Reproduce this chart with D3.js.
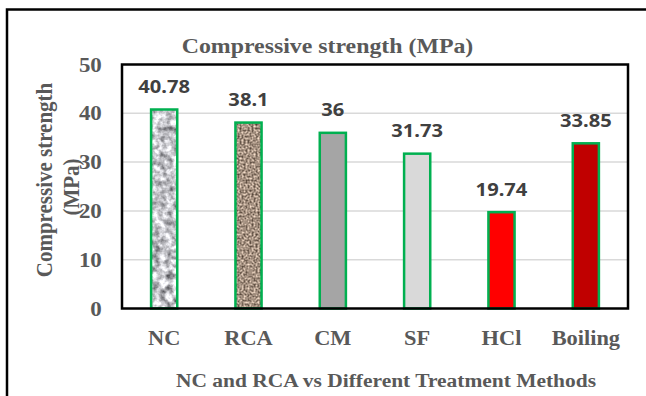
<!DOCTYPE html>
<html>
<head>
<meta charset="utf-8">
<script src="https://cdn.jsdelivr.net/npm/d3@7"></script>
<style>
  html, body { margin: 0; padding: 0; background: #fff; }
  svg { display: block; }
</style>
</head>
<body>
<svg id="chart" width="646" height="396"></svg>
<script>
// Compressive strength of NC, RCA and treated RCA mixes
const categories = ["NC", "RCA", "CM", "SF", "HCl", "Boiling"];
const strengths = [40.78, 38.1, 36, 31.73, 19.74, 33.85];
const yTicks = [0, 10, 20, 30, 40, 50];
const valueLabels = ["40.78", "38.1", "36", "31.73", "19.74", "33.85"];

// bar fills (textures are SVG filters defined below)
const barFills = ["url(#granite)", "url(#aggregate)", "#A5A5A5", "#D9D9D9", "#FF0000", "#C00000"];

const W = 646, H = 396;
const plot = { left: 122, right: 628, top: 64.5, bottom: 308.5 };
const serif = "'Liberation Serif', 'Times New Roman', serif";
const sans = "'Noto Sans', 'Open Sans', sans-serif";
const axisGray = "#595959";
const stretch = 1.12;

const svg = d3.select("#chart");

// ---- textures ----
const defs = svg.append("defs");

function noiseFilter(id, freq, seed, funcs, blur) {
  const f = defs.append("filter")
    .attr("id", id)
    .attr("filterUnits", "objectBoundingBox")
    .attr("x", 0).attr("y", 0).attr("width", 1).attr("height", 1)
    .attr("color-interpolation-filters", "sRGB");
  f.append("feTurbulence")
    .attr("type", "fractalNoise")
    .attr("baseFrequency", freq)
    .attr("numOctaves", 3)
    .attr("seed", seed)
    .attr("result", "n");
  f.append("feColorMatrix")
    .attr("in", "n")
    .attr("type", "matrix")
    .attr("values", "1 0 0 0 0  1 0 0 0 0  1 0 0 0 0  0 0 0 0 1")
    .attr("result", "g");
  f.append("feGaussianBlur").attr("in", "g").attr("stdDeviation", blur).attr("result", "b");
  const ct = f.append("feComponentTransfer").attr("in", "b").attr("result", "c");
  ct.append("feFuncR").attr("type", "linear").attr("slope", funcs[0][0]).attr("intercept", funcs[0][1]);
  ct.append("feFuncG").attr("type", "linear").attr("slope", funcs[1][0]).attr("intercept", funcs[1][1]);
  ct.append("feFuncB").attr("type", "linear").attr("slope", funcs[2][0]).attr("intercept", funcs[2][1]);
  f.append("feComposite").attr("in", "c").attr("in2", "SourceGraphic").attr("operator", "in");
}
// grey granite look
noiseFilter("graniteFx", 0.15, 7, [[1.15, 0.2], [1.15, 0.2], [1.15, 0.22]], 0.6);
// brown recycled-aggregate speckle
noiseFilter("aggregateFx", 0.5, 3, [[1.05, 0.12], [1.0, 0.07], [0.95, 0.03]], 0.35);

// ---- outer frame ----
svg.append("rect")
  .attr("x", 7).attr("y", 9.5)
  .attr("width", 700).attr("height", 500)
  .attr("fill", "#fff")
  .attr("stroke", "#000")
  .attr("stroke-width", 2.5);

// ---- scales ----
const x = d3.scaleBand()
  .domain(categories)
  .range([plot.left, plot.right])
  .paddingInner(0.69)
  .paddingOuter(0.345);

const y = d3.scaleLinear()
  .domain([0, 50])
  .range([plot.bottom, plot.top]);

// ---- gridlines ----
svg.append("g")
  .selectAll("line")
  .data(yTicks.filter(t => t > 0 && t < 50))
  .join("line")
  .attr("x1", plot.left).attr("x2", plot.right)
  .attr("y1", d => y(d)).attr("y2", d => y(d))
  .attr("stroke", "#D9D9D9")
  .attr("stroke-width", 1.5);

// ---- bars ----
const data = categories.map((c, i) => ({ c, v: strengths[i], fill: barFills[i], label: valueLabels[i] }));

const bars = svg.append("g");
bars.selectAll("rect.fill")
  .data(data)
  .join("rect")
  .attr("class", "fill")
  .attr("x", d => x(d.c))
  .attr("y", d => y(d.v))
  .attr("width", x.bandwidth())
  .attr("height", d => y(0) - y(d.v))
  .attr("fill", d => d.fill.startsWith("url") ? "#fff" : d.fill)
  .attr("filter", d => d.fill === "url(#granite)" ? "url(#graniteFx)" :
                       d.fill === "url(#aggregate)" ? "url(#aggregateFx)" : null);

bars.selectAll("rect.outline")
  .data(data)
  .join("rect")
  .attr("class", "outline")
  .attr("x", d => x(d.c))
  .attr("y", d => y(d.v))
  .attr("width", x.bandwidth())
  .attr("height", d => y(0) - y(d.v))
  .attr("fill", "none")
  .attr("stroke", "#00B050")
  .attr("stroke-width", 2.5);

// ---- value labels ----
svg.append("g")
  .selectAll("text")
  .data(data)
  .join("text")
  .attr("transform", d => `translate(${x(d.c) + x.bandwidth() / 2},${y(d.v) - 16.5}) scale(${stretch},1)`)
  .attr("text-anchor", "middle")
  .attr("font-family", sans)
  .attr("font-weight", "bold")
  .attr("font-size", 18)
  .attr("fill", "#404040")
  .text(d => d.label);

// ---- plot border ----
svg.append("rect")
  .attr("x", plot.left).attr("y", plot.top)
  .attr("width", plot.right - plot.left)
  .attr("height", plot.bottom - plot.top)
  .attr("fill", "none")
  .attr("stroke", "#000")
  .attr("stroke-width", 2.5);

// ---- axes ----
const yAxis = svg.append("g")
  .attr("transform", `translate(${plot.left},0)`)
  .call(d3.axisLeft(y).tickValues(yTicks).tickSize(0).tickPadding(18).tickFormat(d3.format("d")));
yAxis.select(".domain").remove();
yAxis.selectAll("text")
  .attr("font-family", serif)
  .attr("font-weight", "bold")
  .attr("font-size", 20.5)
  .attr("fill", axisGray)
  .attr("transform", `scale(${stretch},1)`);

const xAxis = svg.append("g")
  .attr("transform", `translate(0,${plot.bottom})`)
  .call(d3.axisBottom(x).tickSize(0).tickPadding(22));
xAxis.select(".domain").remove();
xAxis.selectAll("text")
  .attr("font-family", serif)
  .attr("font-weight", "bold")
  .attr("font-size", 20)
  .attr("fill", axisGray)
  .attr("transform", `scale(${stretch},1)`);

// ---- titles ----
svg.append("text")
  .attr("transform", `translate(327.5,52.5) scale(1.135,1)`)
  .attr("text-anchor", "middle")
  .attr("font-family", serif)
  .attr("font-weight", "bold")
  .attr("font-size", 21)
  .attr("fill", axisGray)
  .text("Compressive strength (MPa)");

svg.append("text")
  .attr("transform", `translate(386,387) scale(1.16,1)`)
  .attr("text-anchor", "middle")
  .attr("font-family", serif)
  .attr("font-weight", "bold")
  .attr("font-size", 18.5)
  .attr("fill", axisGray)
  .text("NC and RCA vs Different Treatment Methods");

const yTitleLines = [
  { text: "Compressive strength", x: 52, y: 180 },
  { text: "(MPa)", x: 79, y: 187 }
];
svg.append("g")
  .selectAll("text")
  .data(yTitleLines)
  .join("text")
  .attr("transform", d => `translate(${d.x},${d.y}) scale(${stretch},1) rotate(-90)`)
  .attr("text-anchor", "middle")
  .attr("font-family", serif)
  .attr("font-weight", "bold")
  .attr("font-size", 21)
  .attr("fill", axisGray)
  .text(d => d.text);
</script>
</body>
</html>
